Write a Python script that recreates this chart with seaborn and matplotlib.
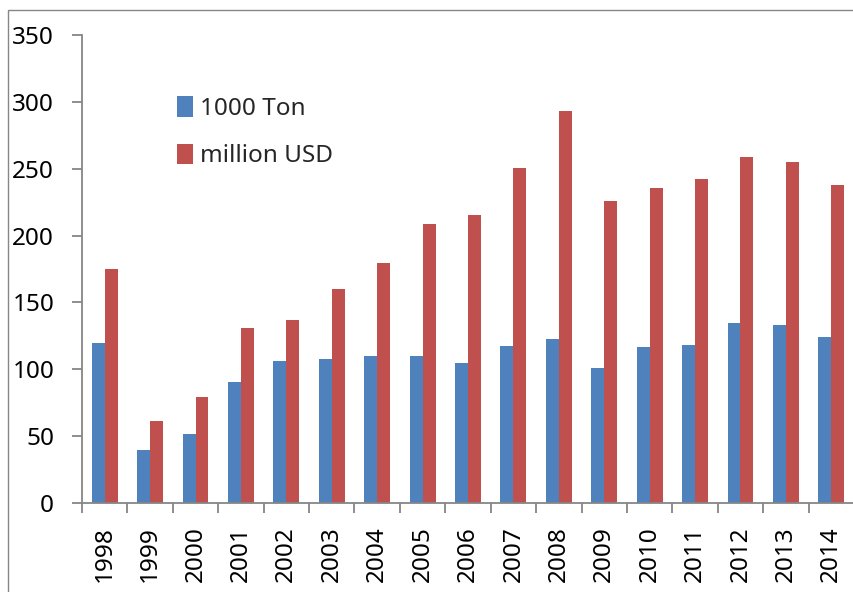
import matplotlib
matplotlib.use("Agg")
import matplotlib.pyplot as plt
import seaborn as sns
import pandas as pd
from matplotlib.patches import Rectangle

years = [str(y) for y in range(1998, 2015)]
tons = [120, 40, 51.5, 90.5, 106, 107.7, 110.2, 109.7, 104.5, 117.4, 122.4,
        100.7, 116.7, 118.4, 134.4, 133.1, 123.9]
usd = [174.8, 61.1, 79, 130.9, 136.6, 160.1, 179.8, 208.4, 215.4, 250.6, 293.2,
       226.1, 235.6, 242.6, 258.8, 254.8, 237.9]
series_names = ["1000 Ton", "million USD"]
colors = ["#4F81BD", "#C0504D"]

df = pd.DataFrame({
    "year": years * 2,
    "value": tons + usd,
    "series": [series_names[0]] * len(years) + [series_names[1]] * len(years),
})

sns.set_style("white")
plt.rcParams["font.family"] = ["Noto Sans", "DejaVu Sans"]

W, H = 854, 592
FS = 17.5
fig = plt.figure(figsize=(W / 100, H / 100), dpi=100)
ax = fig.add_axes([82 / W, (H - 503) / H, (W - 82) / W, (503 - 35) / H])

sns.barplot(data=df, x="year", y="value", hue="series", palette=colors,
            width=0.57, ax=ax, linewidth=0, saturation=1)

ax.set_xlim(-0.5, len(years) - 0.5)
ax.set_ylim(0, 350)
ax.set_yticks(range(0, 351, 50))
ax.set_xlabel("")
ax.set_ylabel("")

spine_color = "#868686"
for s in ["top", "right"]:
    ax.spines[s].set_visible(False)
for s in ["left", "bottom"]:
    ax.spines[s].set_color(spine_color)
    ax.spines[s].set_linewidth(1.3)

ax.set_xticks([i + 0.5 for i in range(-1, len(years))], minor=True)
ax.set_xticks(range(len(years)))
ax.set_xticklabels(years, rotation=90)
ax.tick_params(axis="x", which="major", length=0, pad=17, labelsize=FS, colors="black")
ax.tick_params(axis="x", which="minor", length=7, width=1.3, color=spine_color, direction="out", bottom=True)
ax.tick_params(axis="y", length=7, width=1.3, color=spine_color, direction="out",
               pad=13, labelsize=FS, left=True, labelcolor="black")

leg = ax.legend(loc="upper left", bbox_to_anchor=(177 / W, (H - 96) / H),
                bbox_transform=fig.transFigure, frameon=False, fontsize=FS,
                handlelength=0.66, handleheight=0.93, handletextpad=0.3,
                labelspacing=0.95, borderpad=0, borderaxespad=0)

fig.patches.append(Rectangle((8 / W, -0.1), 1.2, (H - 10) / H + 0.1,
                             transform=fig.transFigure, fill=False,
                             edgecolor=spine_color, linewidth=1.0))

fig.savefig("out.png", dpi=100)
